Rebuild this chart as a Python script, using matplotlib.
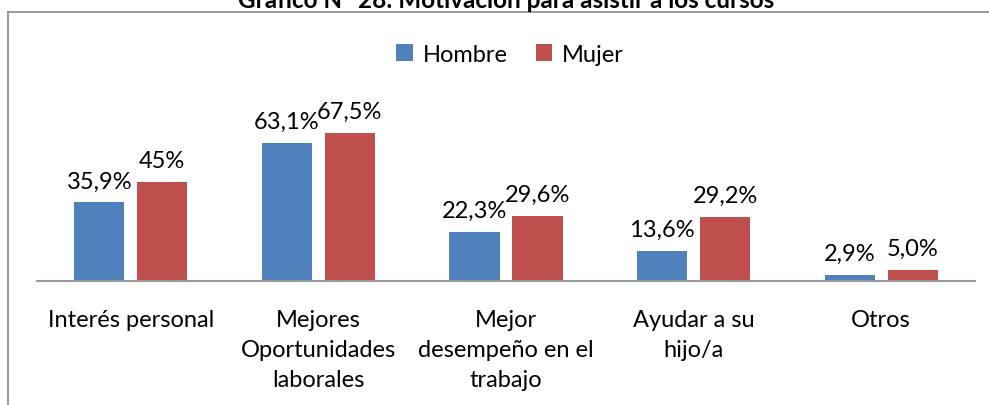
import matplotlib.pyplot as plt
import numpy as np

categorias = ['Interés personal', 'Mejores\nOportunidades\nlaborales',
              'Mejor\ndesempeño en el\ntrabajo', 'Ayudar a su\nhijo/a', 'Otros']
hombre = [35.9, 63.1, 22.3, 13.6, 2.9]
mujer = [45.0, 67.5, 29.6, 29.2, 5.0]
etiq_hombre = ['35,9%', '63,1%', '22,3%', '13,6%', '2,9%']
etiq_mujer = ['45%', '67,5%', '29,6%', '29,2%', '5,0%']

plt.rcParams['font.family'] = ['Lato', 'DejaVu Sans']

fig = plt.figure(figsize=(9.89, 4.06), dpi=100)
ax = fig.add_axes([37 / 989, 1 - 282 / 406, 938 / 989, 219 / 406])

x = np.arange(len(categorias))
w = 0.267
off = 0.168
b1 = ax.bar(x - off, hombre, w, color='#4F81BD', label='Hombre')
b2 = ax.bar(x + off, mujer, w, color='#C0504D', label='Mujer')

for rects, labs in ((b1, etiq_hombre), (b2, etiq_mujer)):
    for r, s in zip(rects, labs):
        ax.text(r.get_x() + r.get_width() / 2, r.get_height() + 5, s,
                ha='center', va='bottom', fontsize=17, color='black')

ax.set_xlim(-0.5, len(categorias) - 0.5)
ax.set_ylim(0, 100)
ax.set_yticks([])
ax.set_xticks(x)
ax.set_xticklabels(categorias, fontsize=17, linespacing=1.55)
ax.tick_params(axis='x', length=0, pad=20)
for s in ['top', 'right', 'left']:
    ax.spines[s].set_visible(False)
ax.spines['bottom'].set_color('#999999')
ax.spines['bottom'].set_linewidth(1.5)

fig.legend(loc='center', bbox_to_anchor=(510 / 989, 1 - 55 / 406), ncol=2,
           frameon=False, fontsize=17, handlelength=0.7, handleheight=0.7,
           handletextpad=0.4, columnspacing=1.2)

# marco del gráfico
fig.add_artist(plt.Line2D([8 / 989, 8 / 989], [0, 1 - 13 / 406],
                          transform=fig.transFigure, color='#888888', lw=1.2))
fig.add_artist(plt.Line2D([8 / 989, 1], [1 - 13 / 406, 1 - 13 / 406],
                          transform=fig.transFigure, color='#888888', lw=1.2))

fig.text(506 / 989, 1 - 1 / 406, 'Gráfico N° 28: Motivación para asistir a los cursos',
         ha='center', va='center', fontsize=17.5, fontweight='bold')

fig.savefig('out.png', dpi=100)
